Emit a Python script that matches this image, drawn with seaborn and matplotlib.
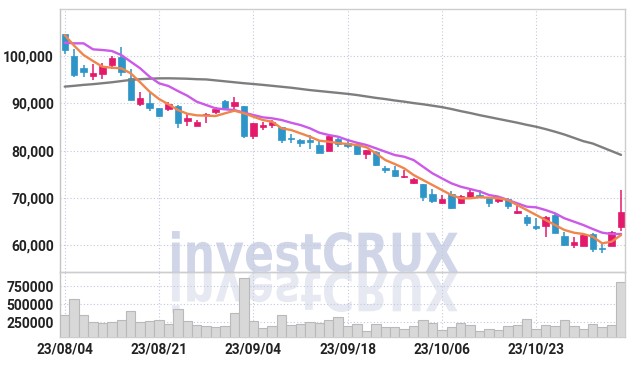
import numpy as np
import pandas as pd
import matplotlib
matplotlib.use("Agg")
import matplotlib.pyplot as plt
import seaborn as sns
from matplotlib.textpath import TextPath
from matplotlib.patches import PathPatch
from matplotlib.font_manager import FontProperties
from matplotlib.transforms import Affine2D
from matplotlib.ticker import FuncFormatter

# ---------------- data ----------------
tick_labels = ["23/08/04", "23/08/21", "23/09/04", "23/09/18", "23/10/06", "23/10/23"]
tick_pos = [0, 10, 20, 30, 40, 50]

opens = [104600, 100000, 97500, 95850, 96100, 98100, 99800, 95300, 89850, 90000,
         88950, 88750, 89400, 86350, 85200, 87500, 88100, 90500, 89500, 89400,
         83100, 84950, 85350, 84900, 82600, 82250, 82250, 81100, 79850, 82400,
         81550, 81400, 79300, 79800, 76400, 75900, 74350, 73100, 72950, 70850,
         68850, 70800, 68850, 70250, 70600, 69900, 69350, 69700, 66750, 66000,
         64050, 64050, 66400, 61900, 60100, 59900, 62350, 59500, 59850, 63800]
highs = [104700, 101400, 98100, 98300, 98450, 100000, 102000, 97200, 92300, 92100,
         89000, 90200, 89600, 87700, 86500, 87900, 89300, 90700, 91400, 89500,
         85800, 86100, 86500, 85000, 83500, 82400, 83300, 82200, 83300, 82600,
         82400, 81600, 80200, 80000, 76750, 76750, 75900, 74300, 73000, 71800,
         70600, 71450, 70600, 71950, 71700, 70100, 70250, 69900, 68350, 66400,
         65700, 66200, 66500, 62850, 61650, 62500, 62500, 60450, 63000, 71700]
lows = [100500, 95600, 95500, 94900, 95100, 97200, 95800, 90700, 89500, 88400,
        87150, 88400, 84700, 85300, 85100, 85900, 87800, 88600, 88200, 82600,
        82400, 84350, 84700, 81700, 81550, 80700, 80300, 79400, 79850, 80700,
        80500, 79100, 78300, 76750, 75200, 74500, 74200, 72950, 69400, 69000,
        68700, 67600, 68750, 70100, 69900, 68000, 68850, 67600, 66600, 64050,
        63200, 61800, 62600, 59800, 59350, 59800, 58650, 58300, 59800, 63100]
closes = [101300, 96000, 96600, 96450, 97950, 99600, 96700, 90700, 91200, 89100,
          87400, 89850, 85800, 86800, 86050, 87700, 88900, 89100, 90200, 83100,
          85800, 85400, 86100, 82250, 82450, 81550, 81750, 79550, 83100, 81400,
          81000, 79200, 80100, 76950, 75800, 74700, 74700, 74000, 70150, 69400,
          69750, 67950, 70400, 71300, 70400, 68850, 69850, 68350, 67250, 64650,
          63700, 66000, 62650, 60050, 60650, 62150, 59200, 59150, 62850, 67100]
volumes = [352000, 577000, 352000, 254000, 236000, 254000, 282000, 409000, 254000, 268000,
           282000, 231000, 437000, 268000, 212000, 198000, 184000, 198000, 376000, 868000,
           268000, 170000, 198000, 352000, 212000, 222000, 254000, 240000, 282000, 320000,
           198000, 222000, 132000, 222000, 184000, 180000, 156000, 198000, 282000, 240000,
           138000, 184000, 240000, 212000, 124000, 152000, 138000, 194000, 212000, 296000,
           156000, 212000, 198000, 282000, 198000, 156000, 222000, 184000, 212000, 812000]
ma_short = [104440, 102180, 100210, 98940, 97740, 97530, 97400, 96340, 94440, 92460,
            90910, 89790, 88580, 87800, 87460, 87390, 87320, 87890, 88440, 87890,
            87180, 86470, 86120, 84720, 84360, 83660, 82940, 82100, 81880, 81600,
            81400, 81190, 80700, 79430, 78010, 77170, 76260, 74840, 73780, 72730,
            71670, 70620, 69920, 69920, 70150, 70050, 69920, 69560, 68500, 67440,
            66390, 65330, 64270, 63220, 62650, 62370, 61800, 60400, 60750, 62160]
ma_mid = [102820, 102680, 102680, 101410, 101270, 101060, 100210, 98800, 97400, 95620,
          94230, 93660, 92600, 91610, 90340, 89640, 88940, 88730, 88580, 88020,
          87530, 87040, 86830, 86470, 85900, 85410, 84720, 83790, 83300, 82940,
          82240, 81670, 81190, 80490, 79770, 79070, 78710, 78010, 76600, 75200,
          74140, 73090, 72370, 71880, 71380, 70620, 70260, 69560, 68860, 68150,
          68010, 67440, 66750, 65690, 64990, 64270, 63430, 62650, 62370, 62370]
ma_long = [93530, 93700, 93900, 94050, 94250, 94450, 94700, 94950, 95100, 95200,
           95280, 95290, 95250, 95200, 95100, 95050, 94850, 94650, 94450, 94250,
           94080, 93900, 93700, 93500, 93300, 93050, 92800, 92600, 92400, 92200,
           92000, 91750, 91450, 91150, 90900, 90600, 90350, 90050, 89800, 89500,
           89200, 88800, 88350, 87950, 87500, 87100, 86700, 86300, 85900, 85450,
           85050, 84550, 84000, 83400, 82700, 82000, 81500, 80700, 79900, 79100]

price_ticks = [60000, 70000, 80000, 90000, 100000]
vol_ticks = [250000, 500000, 750000]

# ---------------- style ----------------
sns.set_theme(style="white")
plt.rcParams['font.family'] = ['Roboto', 'DejaVu Sans']

UP = "#e3196b"
DOWN = "#2e95c8"
GRID = "#c4c8de"
SPINE = "#cdcdcd"
TXT = "#222222"

W, H = 634, 366
fig = plt.figure(figsize=(W / 100, H / 100), dpi=100)
fig.patch.set_facecolor("white")

L, R = 60.3, 625.0
ax = fig.add_axes([L / W, 1 - 272 / H, (R - L) / W, 263 / H])
axv = fig.add_axes([L / W, 1 - 337.3 / H, (R - L) / W, 65.3 / H])
for a in (ax, axv):
    a.set_facecolor("none")

df = pd.DataFrame({"i": np.arange(len(closes)), "open": opens, "high": highs,
                   "low": lows, "close": closes, "vol": volumes,
                   "ma_s": ma_short, "ma_m": ma_mid, "ma_l": ma_long})
df["up"] = df["close"] >= df["open"]
colors = np.where(df["up"], UP, DOWN)

# candles
ax.vlines(df["i"], df["low"], df["high"], colors=colors, lw=1.1, zorder=3)
body_lo = np.minimum(df["open"], df["close"])
body_h = np.maximum(np.abs(df["close"] - df["open"]), 180)
ax.bar(df["i"], body_h, bottom=body_lo, width=0.68, color=colors,
       edgecolor=colors, linewidth=0.5, zorder=4)

# moving averages
sns.lineplot(data=df, x="i", y="ma_l", color="#7e7e7e", lw=1.7, ax=ax, zorder=5)
sns.lineplot(data=df, x="i", y="ma_m", color="#cc5ae8", lw=1.7, ax=ax, zorder=6)
sns.lineplot(data=df, x="i", y="ma_s", color="#ef864c", lw=1.7, ax=ax, zorder=7)

# volume
sns.barplot(data=df, x="i", y="vol", native_scale=True, width=1.0, color="#d8d8d8",
            edgecolor="#b9b9b9", linewidth=0.8, saturation=1, errorbar=None,
            ax=axv, zorder=3)

xlim = (-0.47, 59.42)
ax.set_xlim(*xlim)
axv.set_xlim(*xlim)
ax.set_ylim(54340, 109940)
axv.set_ylim(39000, 952000)

ax.set_yticks(price_ticks)
ax.yaxis.set_major_formatter(FuncFormatter(lambda v, p: f"{v:,.0f}"))
axv.set_yticks(vol_ticks)
axv.yaxis.set_major_formatter(FuncFormatter(lambda v, p: f"{v:.0f}"))
ax.set_xticks(tick_pos)
ax.set_xticklabels([])
axv.set_xticks(tick_pos)
axv.set_xticklabels(tick_labels)

for a in (ax, axv):
    a.set_xlabel("")
    a.set_ylabel("")
    a.grid(True, axis="both", linestyle=(0, (1, 2)), color=GRID, lw=0.8, zorder=0)
    a.set_axisbelow(True)
    a.tick_params(axis="y", length=0, labelsize=10, labelcolor=TXT, pad=4.5)
    a.tick_params(axis="x", length=0, labelsize=9.8, labelcolor=TXT, pad=3.5)
    for s in a.spines.values():
        s.set_visible(True)
        s.set_color(SPINE)
        s.set_linewidth(1.0)
    for t in a.get_yticklabels() + a.get_xticklabels():
        t.set_fontweight("bold")
ax.spines["left"].set_color("#c2c2c2")
axv.spines["left"].set_color("#c2c2c2")

# watermark with reflection
fp = FontProperties(family="DejaVu Sans", weight="bold")
tp = TextPath((0, 0), "investCRUX", size=1, prop=fp)
ext = tp.get_extents()
cap = TextPath((0, 0), "C", size=1, prop=fp).get_extents().y1
x0, x1, base_y, cap_top = 172, 458, 272, 232
sx = (x1 - x0) / (ext.x1 - ext.x0)
sy = (base_y - cap_top) / cap
for sign, col in ((1, "#d0d5e8"), (-1, "#e6e9f2")):
    tr = (Affine2D().translate(-ext.x0, 0).scale(sx / W, sign * sy / H)
          .translate(x0 / W, 1 - base_y / H) + fig.transFigure)
    patch = PathPatch(tp, transform=tr, facecolor=col, edgecolor="none", zorder=-1)
    fig.patches.append(patch)

fig.savefig("out.png", dpi=100)
